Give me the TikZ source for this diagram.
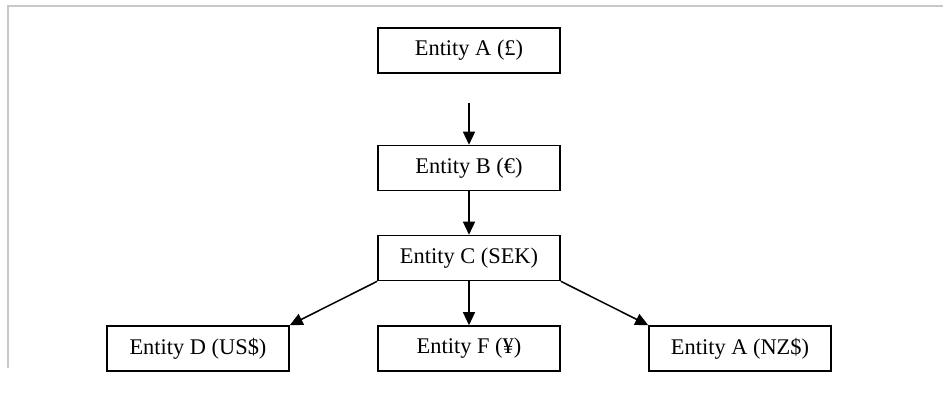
\documentclass[tikz,border=0pt]{standalone}
\usepackage{fontspec}
\setmainfont{Liberation Serif}
\usetikzlibrary{arrows.meta}
\begin{document}
\begin{tikzpicture}[x=1pt,y=-1pt,
  ent/.style={draw=black, line width=1.6pt, minimum width=182pt, minimum height=45pt, inner sep=0pt, font=\fontsize{22.4pt}{26pt}\selectfont, fill=white},
  link/.style={line width=1.5pt, -{Triangle[length=13pt,width=12pt]}},
  frame/.style={draw={rgb,255:red,200;green,200;blue,200}, line width=2pt}]
\useasboundingbox (0,0) rectangle (943,401);
\draw[frame] (8,368) -- (8,6) -- (943,6);
\node[ent] (a) at (469,50.5) {Entity A (£)};
\node[ent] (b) at (469,168) {Entity B (€)};
\node[ent] (c) at (469,258) {Entity C (SEK)};
\node[ent] (d) at (198,348.5) {Entity D (US\$)};
\node[ent] (f) at (469,348.5) {Entity F (¥)};
\node[ent] (nz) at (740,348.5) {Entity A (NZ\$)};
\coordinate (astart) at (469,103);
\draw[link] (astart) -- (b.north);
\draw[link] (b.south) -- (c.north);
\draw[link] (c.south) -- (f.north);
\draw[link] (c.south west) -- (d.north east);
\draw[link] (c.south east) -- (nz.north west);
\end{tikzpicture}
\end{document}
